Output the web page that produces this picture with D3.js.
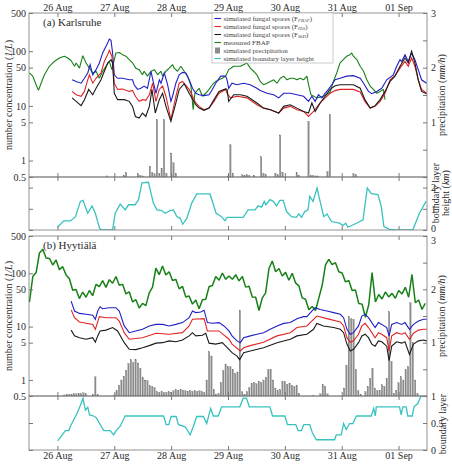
<!DOCTYPE html>
<html>
<head>
<meta charset="utf-8">
<title>fungal spores Karlsruhe / Hyytiala</title>
<script src="https://d3js.org/d3.v7.min.js"></script>
<style>
  html, body { margin: 0; padding: 0; background: #fff; }
  svg text { font-family: "Liberation Serif", "DejaVu Serif", serif; }
</style>
</head>
<body>
<svg id="chart" width="452" height="464"></svg>
<script>
// hours since 26 Aug 00:00, values in 1/L, mm/h or km
const karlsFbap = [[-11.8,40],[-10.4,35],[-9.0,24.4],[-8.0,19.2],[-6.9,26],[-5.5,37],[-3.4,53],[-1.3,65],[0.8,75],[2.9,81],[4.4,75],[5.8,67],[7.2,53],[7.9,61],[9.3,49],[10.7,83],[12.1,61],[13.5,49],[14.9,40],[16.3,43],[17.7,32],[19.1,43],[20.5,53],[21.9,65],[23.0,46],[24.7,93],[26.1,95],[27.5,86.5],[28.9,81],[30.3,70],[31.7,61],[33.1,49],[34.5,46],[35.9,37],[36.6,43],[38.0,35],[39.5,43],[40.9,46],[42.3,37],[43.7,43],[44.4,35],[45.8,43],[47.2,49],[48.6,57],[49.3,49],[50.7,43],[52.1,53],[53.5,43],[54.9,35],[56.3,24.4],[57.3,8.5],[58.0,17],[59.8,21],[61.2,15],[62.6,17],[64.0,20],[65.4,24.4],[66.8,28],[68.2,30],[69.6,32],[71.0,35],[72.3,46],[74.4,53],[77.2,53],[80.0,61],[81.4,49],[82.8,43],[84.2,37],[85.6,28],[87.0,24.4],[88.5,26],[89.9,28],[91.3,30],[92.7,26],[94.1,32],[95.5,35],[96.9,30],[98.3,32],[99.7,32],[101.1,30],[102.5,32],[103.9,30],[105.3,35],[106.0,24.4],[107.0,16],[109.5,14],[112.3,15],[115.1,17.7],[116.5,28],[117.9,40],[119.3,61],[120.7,70],[122.1,81],[123.5,86.5],[124.2,93],[124.9,81],[126.4,70],[127.8,53],[129.2,43],[130.6,30],[132.0,23],[133.4,20],[134.8,17],[136.2,18.4],[137.6,20],[138.3,13]];

const karlsFFbap = [[6.2,30],[7.9,28],[10.0,26],[11.4,32],[12.8,40],[13.8,57],[14.9,37],[16.3,46],[17.7,61],[19.1,93],[20.5,123],[21.2,141],[21.9,167],[22.6,158],[23.3,93],[24.0,37],[25.4,32],[27.5,32],[30.3,30],[31.7,30],[32.4,24.4],[33.8,20],[35.2,21],[36.6,23],[38.0,21],[39.5,43],[40.4,28],[41.6,17],[43.0,30],[43.7,26],[45.1,40],[46.5,24.4],[47.9,12.1],[48.6,15],[50.0,26],[51.4,37],[52.8,41],[54.2,40],[55.6,30],[57.0,21],[58.4,17],[59.8,16],[61.9,15.4],[64.0,16],[65.4,20],[66.8,26],[68.9,35],[71.0,35],[71.6,30],[72.3,21],[73.7,26],[75.8,24.4],[78.6,26],[81.4,24.4],[84.2,21],[85.6,19.2],[88.5,17],[91.3,16],[93.4,14],[95.5,17],[98.3,17],[101.1,16],[103.9,15],[106.0,12.1],[107.4,15],[108.8,12.1],[110.2,16],[111.6,14],[113.0,17],[114.4,20],[115.8,24.4],[117.2,30],[119.3,32],[122.1,35],[124.9,35.7],[127.8,32],[129.2,26],[131.3,18.4],[132.7,16.7],[134.8,18.4],[136.9,21],[139.0,30],[141.8,37],[143.2,53],[144.6,70],[145.3,65],[146.7,86.5],[148.1,65],[149.5,93],[150.9,70],[152.3,46],[153.7,30],[155.8,26]];

const karlsFHiS = [[6.2,18.4],[7.9,16],[10.0,15],[11.4,18.4],[12.8,30],[13.5,37],[14.9,26],[16.3,32],[18.4,40],[19.8,65],[21.2,86.5],[21.9,104],[23.0,81],[24.0,26],[25.4,20],[27.5,20.4],[30.3,18.4],[31.7,19.2],[32.9,15],[34.5,12.1],[35.9,13],[37.3,12.6],[38.8,16],[40.2,26],[41.6,12.1],[43.0,20],[44.4,23],[45.8,15],[47.9,5.6],[50.0,15],[51.4,26],[52.8,28],[55.6,20],[58.4,11.3],[59.8,9.8],[61.9,8.5],[64.0,9.1],[66.1,12.1],[68.2,17],[71.0,20],[71.6,17],[73.0,14],[75.8,15],[80.0,14],[84.2,10.5],[87.0,9.1],[89.9,8.5],[93.4,7.4],[95.5,9.1],[98.3,9.8],[101.1,8.5],[103.9,7.9],[106.0,6.4],[108.1,7.9],[110.9,11.3],[113.0,14],[115.1,17],[117.2,19],[119.3,20],[122.1,20],[124.9,20],[127.8,18],[129.8,12.1],[132.0,9.1],[134.1,9.8],[136.2,12.1],[138.3,17],[140.4,30],[142.5,35.7],[144.6,49],[146.7,65],[148.1,53],[149.5,75],[150.9,53],[152.3,30],[153.7,20],[155.8,17]];

const karlsFSkD = [[6.2,14],[7.9,12.1],[10.0,10.1],[11.4,13],[13.2,20],[14.9,16],[16.3,21],[18.4,30],[19.8,43],[21.2,61],[22.6,70],[23.3,61],[24.0,17],[25.4,13],[28.2,13],[30.3,12.1],[31.7,9.8],[32.9,6.4],[34.5,6.0],[35.9,7.4],[37.3,6.4],[38.8,9.8],[39.9,20],[41.3,7.4],[43.0,13],[44.4,17],[45.8,9.8],[47.9,5.2],[50.0,11.3],[51.4,20],[53.5,25.5],[55.6,17],[58.4,10.5],[59.8,9.1],[61.9,8.3],[64.0,9.1],[66.1,13],[68.2,18.4],[71.0,20.4],[71.6,20],[72.3,12.1],[74.4,16],[77.2,16],[80.0,15],[84.2,11.3],[87.0,9.1],[89.9,8.5],[93.4,7.4],[95.5,9.8],[98.3,10.5],[101.1,9.1],[103.9,7.9],[106.0,7.4],[107.4,11.3],[108.8,7.9],[110.9,11.3],[113.0,15],[115.1,20],[117.2,23.4],[119.3,24.4],[124.9,24.4],[127.8,21],[129.8,13],[132.0,9.1],[134.1,10.1],[136.2,13],[138.3,18.4],[140.4,28],[142.5,35],[144.6,53],[146.7,75],[148.1,61],[149.5,99.5],[150.9,61],[152.3,30],[153.7,18.4],[155.8,16.7]];

const karlsPrecip = [[21,0.02],[28,0.03],[29,0.08],[34,0.06],[35,0.03],[36,0.02],[39,0.2],[40,0.08],[41,0.06],[42,1.05],[43,0.07],[44,0.16],[45,1.05],[46,0.07],[48,0.44],[49,0.26],[50,0.07],[72,0.02],[73,0.59],[74,0.07],[78,0.04],[79,0.03],[80,0.04],[81,0.03],[83,0.03],[86,0.37],[87,0.07],[88,0.04],[92,0.07],[93,0.04],[94,0.77],[95,0.09],[101,0.08],[102,0.03],[106,1.02],[107,0.03],[108,0.03],[109,0.02],[110,0.02],[114,0.1],[115,1.14],[125,0.06],[126,0.04]];

const karlsBlh = [[0,0.13],[2.7,0.43],[5.5,0.43],[7.6,0.63],[9.7,1.35],[10.8,1.4],[12.8,0.79],[14.6,1.14],[16,0.79],[17.8,0.08],[18.8,0],[22.3,0],[23.3,0.03],[24.4,0.79],[26.5,1.22],[28.6,0.95],[30,1.19],[32.8,1.19],[34.2,1.43],[35.7,2.22],[38.4,2.25],[40.5,1.27],[42,0.95],[44,0.92],[45.5,0.79],[47.6,0.92],[49,0.95],[50.4,0.63],[51.8,0.55],[52.9,0.27],[54.6,0.55],[56.7,1.27],[58.8,1.7],[64.4,1.7],[67,0.79],[69.3,0.63],[70.7,0.44],[71.7,0.6],[78.4,0.6],[80.5,0.95],[83.4,0.95],[84.7,1.14],[86.2,1.08],[87.3,1.35],[88,1.19],[89.7,1.43],[91.1,1.35],[92.5,1.14],[93.9,1.4],[95.3,1.4],[96.7,0.87],[98.8,0.63],[100.9,0.6],[101.9,0.76],[103,0.6],[104.4,0.87],[105.8,0.95],[106.5,1.59],[107.9,1.35],[109.6,1.98],[110.7,1.43],[112.4,0.63],[113.8,0.76],[115.7,0.4],[119.1,0.32],[120.5,0.21],[121.7,0.32],[122.6,0.13],[126.2,0.32],[129,0.48],[130.8,1.98],[132.5,1.71],[135.3,1.67],[136.7,1.11],[137.8,0.16],[140.2,0.03],[143,0],[150,0],[152.8,0.79],[155.6,1.35]];

// Hyytiala measured FBAP on a regular grid
const hyyFbapStartHour = -11.8;
const hyyFbapStepHours = 1.404;
const hyyFbapValues = [29,87,103,240,281,194,190,143,178,117,133,93,79,48,49.5,33.5,44.5,35.5,47.5,38,62,56,73,54.5,76,65,87,59.5,62,41,45,29,32,22.3,27.3,24.7,43,55,125,94,137,93,107,73,77,51,57,36,37.5,26.4,31.5,21.6,32,32.5,56,59,87,74,101,77,89,
  77,94,72,87,55,57,36,35.5,20,34.5,43,123,170,107,123,89,104,74,100,66,58,34.5,32.5,20.7,23.8,20,34.5,59.5,143,183,145,158,107,101,69,73,47.5,48.5,27,26.4,15,25.7,103,29,40,33,44.5,36,42,34,47.5,41,54.5,35.5,95,28,31.5,21,27.3];

const hyyFFbap = [[5.8,30],[7.2,19.6],[9.3,17.7],[12.1,17],[14.9,16.3],[16.0,13.7],[17.0,19.6],[18.0,23.6],[19.1,21.6],[21.9,22.6],[24.7,22.6],[26.1,19.6],[28.2,10.3],[30.3,7.7],[33.1,8.3],[35.9,8.9],[38.8,10.3],[41.6,11],[44.4,11],[47.2,10.3],[50.0,11],[52.8,11.9],[55.6,14.7],[57.0,19.6],[58.4,18.3],[60.5,18.8],[61.9,20.3],[63.3,11.9],[65.4,11.6],[68.2,11.9],[70.3,10.3],[72.4,8.3],[73.7,6.7],[75.8,5.4],[77.2,5.0],[78.6,6.2],[81.4,6.7],[84.2,7.2],[87.0,7.7],[89.8,8.9],[92.7,10.3],[95.5,11.5],[98.3,11.9],[101.1,14.1],[103.9,15.4],[105.3,15.4],[107.4,19.6],[108.8,22.6],[110.9,21],[113.8,19.6],[116.6,18.3],[119.4,17],[120.8,14.7],[122.2,8.9],[123.6,7.2],[125.0,7.7],[127.1,10.3],[128.5,15.8],[129.9,17],[131.3,14.7],[132.7,11.9],[134.1,9.6],[135.5,11.9],[136.9,11],[139.0,9.6],[140.0,6.7],[141.1,11],[143.2,11.9],[145.3,11],[146.7,11.9],[148.6,8.9],[150.3,11],[152.4,12.7],[154.5,13.7],[155.9,13.7]];

const hyyFHiS = [[5.8,20.6],[7.2,14.7],[9.3,12.2],[14.9,11],[16.0,8.9],[17.7,15.4],[20.5,14.7],[24.7,14.7],[26.1,12.7],[28.2,7.7],[30.3,5.8],[35.9,6.2],[41.6,7.5],[47.2,7.2],[52.8,7.7],[55.6,10.3],[57.0,13.7],[61.9,14.1],[63.3,8.3],[68.2,8.3],[72.4,5.8],[73.7,4.7],[77.2,3.5],[78.6,4.0],[81.4,4.4],[87.0,5.1],[92.7,6.7],[98.3,7.7],[101.1,9.6],[105.3,10.3],[108.1,13.7],[109.5,15.8],[113.8,14.1],[119.4,12.2],[120.8,10.3],[122.2,6.2],[123.6,5.1],[125.0,5.4],[127.1,7.2],[128.5,10.3],[129.9,11.5],[131.3,9.6],[132.7,7.7],[134.1,6.2],[135.5,7.7],[136.9,7.2],[139.0,6.2],[140.0,3.5],[141.1,6.7],[143.2,7.7],[145.3,7.2],[146.7,7.7],[148.6,5.8],[150.3,7.5],[152.4,8.6],[154.5,8.9],[155.9,8.9]];

const hyyFSkD = [[5.8,8.6],[7.2,6.7],[9.3,6.2],[12.1,5.8],[14.9,6.2],[16.0,5.1],[17.0,6.7],[18.0,8.3],[20.5,8.6],[23.3,9.6],[25.4,8.3],[28.2,5.0],[30.3,3.75],[33.1,3.7],[35.9,4.0],[38.8,4.4],[41.6,4.9],[44.4,5.0],[47.2,5.4],[50.0,5.2],[52.8,5.6],[55.6,6.7],[57.0,7.7],[58.4,6.7],[61.2,6.9],[62.6,7.5],[64.0,4.9],[66.8,4.7],[69.6,5.0],[72.4,3.75],[73.7,3.25],[75.8,2.8],[76.9,2.4],[78.6,3.25],[81.4,3.5],[87.0,4.0],[92.7,5.0],[98.3,5.8],[101.1,6.7],[105.3,7.2],[108.1,8.9],[109.5,11.5],[112.3,10.3],[116.6,9.6],[119.4,8.9],[120.8,7.7],[122.2,4.7],[123.6,3.5],[125.0,3.75],[127.1,5.0],[128.5,6.7],[129.9,7.2],[131.3,6.2],[132.7,4.7],[134.1,4.3],[135.5,5.4],[136.9,5.2],[139.0,4.3],[140.0,2.3],[141.1,4.3],[143.2,5.2],[145.3,4.9],[146.7,5.2],[148.6,3.0],[150.3,4.7],[152.4,5.4],[154.5,5.6],[155.9,5.4]];

const hyyPrecip = [[3,0.02],[4,0.03],[5,0.03],[6,0.03],[7,0.04],[8,0.04],[9,0.05],[10,0.04],[11,0.06],[12,0.04],[15,0.03],[16,0.36],[17,0.03],[24,0.02],[25,0.1],[26,0.2],[27,0.3],[28,0.37],[29,0.48],[30,0.61],[31,0.68],[32,0.63],[33,0.68],[34,0.62],[35,0.52],[36,0.35],[37,0.3],[38,0.29],[39,0.19],[40,0.18],[41,0.16],[42,0.08],[43,0.07],[44,0.08],[45,0.06],[46,0.07],[47,0.08],[48,0.07],[49,0.1],[50,0.12],[51,0.11],[52,0.12],[53,0.11],[54,0.1],[55,0.09],[56,0.1],[57,0.09],[58,0.1],[59,0.09],[60,0.1],[61,0.08],[62,0.07],[63,0.3],[64,0.83],[65,0.75],[66,0.12],[67,0.03],[68,0.05],[69,0.25],[70,0.48],[71,0.6],[72,0.55],[73,0.55],[74,0.5],[75,0.42],[76,0.45],[77,1.61],[78,0.08],[79,0.03],[80,0.08],[81,0.16],[82,0.24],[83,0.25],[84,0.23],[85,0.28],[86,0.25],[87,0.3],[88,0.35],[89,0.5],[90,0.5],[91,0.3],[92,0.15],[93,0.1],[94,0.12],[95,0.28],[96,0.27],[97,0.22],[98,0.24],[99,0.2],[100,0.18],[101,0.2],[102,0.05],[108,0.01],[111,0.04],[112,0.22],[113,0.18],[114,0.04],[121,0.15],[122,0.58],[123,1.49],[124,1.45],[125,1.44],[126,0.5],[127,0.1],[128,0.03],[130,0.08],[131,0.18],[132,0.33],[133,0.52],[134,0.15],[135,0.1],[136,0.11],[137,0.21],[138,0.18],[139,0.33],[140,1.58],[141,0.65],[142,0.05],[143,0.11],[144,0.25],[145,0.36],[146,0.3],[147,0.49],[148,0.55],[149,1.75],[150,1.0],[151,0.3],[152,0.05]];

const hyyBlh = [[0.1,0.17],[2,0.28],[3.4,0.36],[4.8,0.36],[5.5,0.44],[6.9,0.56],[8.3,0.68],[9.7,0.83],[10.8,0.96],[11.8,0.74],[12.8,0.79],[13.6,0.65],[15.3,0.63],[16.4,0.6],[17.8,0.49],[19.5,0.36],[22.3,0.36],[23.7,0.28],[24.8,0.36],[26.5,0.44],[28.6,0.63],[44.8,0.63],[45.9,0.47],[47,0.47],[48,0.62],[50.1,0.62],[51.1,0.47],[53.9,0.43],[56,0.28],[57.4,0.44],[58.8,0.62],[61.6,0.62],[63,0.49],[64.7,0.77],[65.8,0.63],[67.9,0.63],[69.3,0.8],[77,0.8],[78.4,0.96],[79.8,0.96],[81,0.8],[89.7,0.8],[90.8,0.63],[96,0.63],[97.1,0.47],[100.6,0.47],[101.6,0.36],[103,0.36],[104,0.47],[106.5,0.47],[107.6,0.32],[109.3,0.19],[117,0.19],[117.7,0.28],[119.8,0.28],[120.8,0.49],[121.9,0.38],[123.3,0.49],[124.7,0.49],[126.2,0.63],[132.5,0.63],[133.5,0.77],[134.2,0.63],[134.6,0.8],[144.4,0.8],[145.1,0.65],[145.8,0.8],[147.2,0.8],[147.9,0.63],[149.8,0.63],[150.5,0.8],[152.1,0.86],[153.5,1.0],[155,1.0]];

const concTicks = [0.5, 1, 5, 10, 50, 100, 500];
const precipTicks = [0, 0.5, 1, 1.5, 2, 2.5, 3];

const colors = { fbap: "#178017", FBAP: "#2020c4", HiS: "#e02424", SkD: "#1a1a1a", blh: "#38c2be", bar: "#8c8c8c" };

const dayBase = Date.UTC(2016, 7, 26);
const hourToDate = h => new Date(dayBase + h * 3600 * 1000);

const left = 29, right = 427;
const x = d3.scaleUtc().domain([hourToDate(-12), hourToDate(156)]).range([left, right]);
const dayTicks = d3.utcDay.range(hourToDate(0), hourToDate(145));
const dayFormat = d3.utcFormat("%d %b");

const svg = d3.select("#chart");
const fontFamily = '"Liberation Serif", "DejaVu Serif", serif';

const panels = [
  { id: "a", label: "(a) Karlsruhe", top: 13, bottom: 177, blTop: 177, blBottom: 230,
    blMax: 2.5, blTicks: [0, 1, 2], fbap: karlsFbap, fbapWidth: 1.1, sims: [karlsFFbap, karlsFHiS, karlsFSkD],
    precip: karlsPrecip, blh: karlsBlh, topDates: true, bottomDates: false,
    blLabelX: 439, blLabelY: 193, blTwoLines: true },
  { id: "b", label: "(b) Hyytiälä", top: 236, bottom: 396, blTop: 396, blBottom: 450,
    blMax: 1, blTicks: [0, 0.5, 1],
    fbap: hyyFbapValues.map((v, i) => [hyyFbapStartHour + i * hyyFbapStepHours, v]), fbapWidth: 1.5,
    sims: [hyyFFbap, hyyFHiS, hyyFSkD],
    precip: hyyPrecip, blh: hyyBlh, topDates: false, bottomDates: true,
    blLabelX: 446, blLabelY: 424, blTwoLines: false }
];

function styleAxis(g) {
  g.select(".domain").remove();
  g.attr("font-family", fontFamily).attr("font-size", 10).attr("color", "#777");
  g.selectAll("text").attr("fill", "#2a2a2a");
}

panels.forEach(p => {
  const yC = d3.scaleLog().domain([0.5, 500]).range([p.bottom, p.top]);
  const yP = d3.scaleLinear().domain([0, 3]).range([p.bottom, p.top]);
  const yB = d3.scaleLinear().domain([0, p.blMax]).range([p.blBottom, p.blTop]);
  const g = svg.append("g");

  g.append("clipPath").attr("id", "clip-" + p.id)
    .append("rect").attr("x", left).attr("y", p.top).attr("width", right - left).attr("height", p.bottom - p.top);
  g.append("clipPath").attr("id", "clipbl-" + p.id)
    .append("rect").attr("x", left).attr("y", p.blTop).attr("width", right - left).attr("height", p.blBottom - p.blTop);

  const plot = g.append("g").attr("clip-path", `url(#clip-${p.id})`);

  // precipitation bars
  plot.selectAll(".bar").data(p.precip).enter().append("rect")
    .attr("class", "bar")
    .attr("x", d => x(hourToDate(d[0])) - 0.7)
    .attr("width", 1.4)
    .attr("y", d => yP(d[1]))
    .attr("height", d => yP(0) - yP(d[1]))
    .attr("fill", colors.bar)
    .attr("stroke", "#6e6e6e")
    .attr("stroke-width", 0.25);

  const conc = d3.line().x(d => x(hourToDate(d[0]))).y(d => yC(d[1]));
  plot.append("path").datum(p.fbap).attr("d", conc)
    .attr("fill", "none").attr("stroke", colors.fbap).attr("stroke-width", p.fbapWidth)
    .attr("stroke-linejoin", "bevel");
  [colors.FBAP, colors.HiS, colors.SkD].forEach((c, i) => {
    plot.append("path").datum(p.sims[i]).attr("d", conc)
      .attr("fill", "none").attr("stroke", c).attr("stroke-width", 1.1);
  });

  // boundary layer height
  const bl = d3.line().x(d => x(hourToDate(d[0]))).y(d => yB(d[1]));
  g.append("g").attr("clip-path", `url(#clipbl-${p.id})`)
    .append("path").datum(p.blh).attr("d", bl)
    .attr("fill", "none").attr("stroke", colors.blh).attr("stroke-width", 1.3);

  // frames
  [[p.top, p.bottom], [p.blTop, p.blBottom]].forEach(([t, b]) => {
    g.append("rect").attr("x", left).attr("y", t).attr("width", right - left).attr("height", b - t)
      .attr("fill", "none").attr("stroke", "#777").attr("stroke-width", 0.8);
  });

  // y axes
  g.append("g").attr("transform", `translate(${left},0)`)
    .call(d3.axisLeft(yC).tickValues(concTicks).tickFormat(d3.format("~g")).tickSize(-4).tickPadding(3))
    .call(styleAxis);
  const pr = g.append("g").attr("transform", `translate(${right},0)`)
    .call(d3.axisRight(yP).tickValues(precipTicks).tickFormat(d => (d > 0 && Number.isInteger(d)) ? d : "").tickSize(-4).tickPadding(4))
    .call(styleAxis);
  if (p.id === "b") pr.selectAll("text").filter(d => d === 3).attr("dy", "0.75em");
  g.append("g").attr("transform", `translate(${left},0)`)
    .call(d3.axisLeft(yB).tickValues(p.blTicks).tickFormat("").tickSize(-4))
    .call(styleAxis);
  const br = g.append("g").attr("transform", `translate(${right},0)`)
    .call(d3.axisRight(yB).tickValues(p.blTicks).tickFormat(d3.format("~g")).tickSize(-4).tickPadding(4))
    .call(styleAxis);
  if (p.id === "a") br.selectAll("text").filter(d => d === 0).attr("dy", "0.15em");

  // day ticks on every box edge
  [[p.top, p.bottom], [p.blTop, p.blBottom]].forEach(([t, b], k) => {
    const showTop = p.topDates && k === 0;
    const showBottom = p.bottomDates && k === 1;
    g.append("g").attr("transform", `translate(0,${t})`)
      .call(d3.axisTop(x).tickValues(dayTicks).tickFormat(showTop ? dayFormat : () => "").tickSize(-4).tickPadding(2))
      .call(styleAxis);
    g.append("g").attr("transform", `translate(0,${b})`)
      .call(d3.axisBottom(x).tickValues(dayTicks).tickFormat(showBottom ? dayFormat : () => "").tickSize(-4).tickPadding(2))
      .call(styleAxis);
  });

  // panel title
  g.append("text").attr("x", 43).attr("y", p.top + 13)
    .attr("font-size", 11).attr("fill", "#2a2a2a").text(p.label);

  // axis labels
  const yl = g.append("text")
    .attr("transform", `translate(11.5,${(p.top + p.bottom) / 2}) rotate(-90)`)
    .attr("text-anchor", "middle").attr("font-size", 10).attr("fill", "#2a2a2a");
  yl.append("tspan").text("number concentration (");
  yl.append("tspan").attr("font-style", "italic").text("1/L");
  yl.append("tspan").text(")");

  const pl = g.append("text")
    .attr("transform", `translate(445,${(p.top + p.bottom) / 2}) rotate(-90)`)
    .attr("text-anchor", "middle").attr("font-size", 10).attr("fill", "#2a2a2a");
  pl.append("tspan").text("precipitation (");
  pl.append("tspan").attr("font-style", "italic").text("mm/h");
  pl.append("tspan").text(")");

  // the second line of the Hyytiala label falls outside the picture
  const bll = g.append("text")
    .attr("transform", `translate(${p.blLabelX},${p.blLabelY}) rotate(-90)`)
    .attr("text-anchor", "middle").attr("font-size", 10).attr("fill", "#2a2a2a");
  bll.append("tspan").attr("x", 0).attr("dy", 0).text("boundary layer");
  if (p.blTwoLines) {
    const l2 = bll.append("tspan").attr("x", 0).attr("dy", "0.95em");
    l2.append("tspan").text("height (");
    l2.append("tspan").attr("font-style", "italic").text("km");
    l2.append("tspan").text(")");
  }
});

// legend
const legendRows = [
  { type: "line", color: colors.FBAP, text: "simulated fungal spores (F", sub: "FBAP" },
  { type: "line", color: colors.HiS, text: "simulated fungal spores (F", sub: "HiS" },
  { type: "line", color: colors.SkD, text: "simulated fungal spores (F", sub: "SkD" },
  { type: "line", color: colors.fbap, text: "measured FBAP" },
  { type: "bar", color: colors.bar, text: "simulated precipitation" },
  { type: "line", color: colors.blh, text: "simulated boundary layer height" }
];
const legend = svg.append("g").attr("transform", "translate(212,13)");
legend.append("rect").attr("width", 121).attr("height", 50)
  .attr("fill", "#fff").attr("stroke", "#b5b5b5").attr("stroke-width", 0.7);
legendRows.forEach((r, i) => {
  const yy = 5.5 + i * 8;
  if (r.type === "line") {
    legend.append("line").attr("x1", 2.5).attr("x2", 9).attr("y1", yy).attr("y2", yy)
      .attr("stroke", r.color).attr("stroke-width", 1.1);
  } else {
    legend.append("rect").attr("x", 3).attr("y", yy - 3).attr("width", 5).attr("height", 6)
      .attr("fill", r.color);
  }
  const t = legend.append("text").attr("x", 11.5).attr("y", yy + 2.3)
    .attr("font-size", 7).attr("fill", "#444").text(r.text);
  if (r.sub) {
    t.append("tspan").attr("font-size", 4.8).attr("font-style", "italic").attr("dy", 1.2).text(r.sub);
    t.append("tspan").attr("dy", -1.2).text(")");
  }
});
</script>
</body>
</html>
